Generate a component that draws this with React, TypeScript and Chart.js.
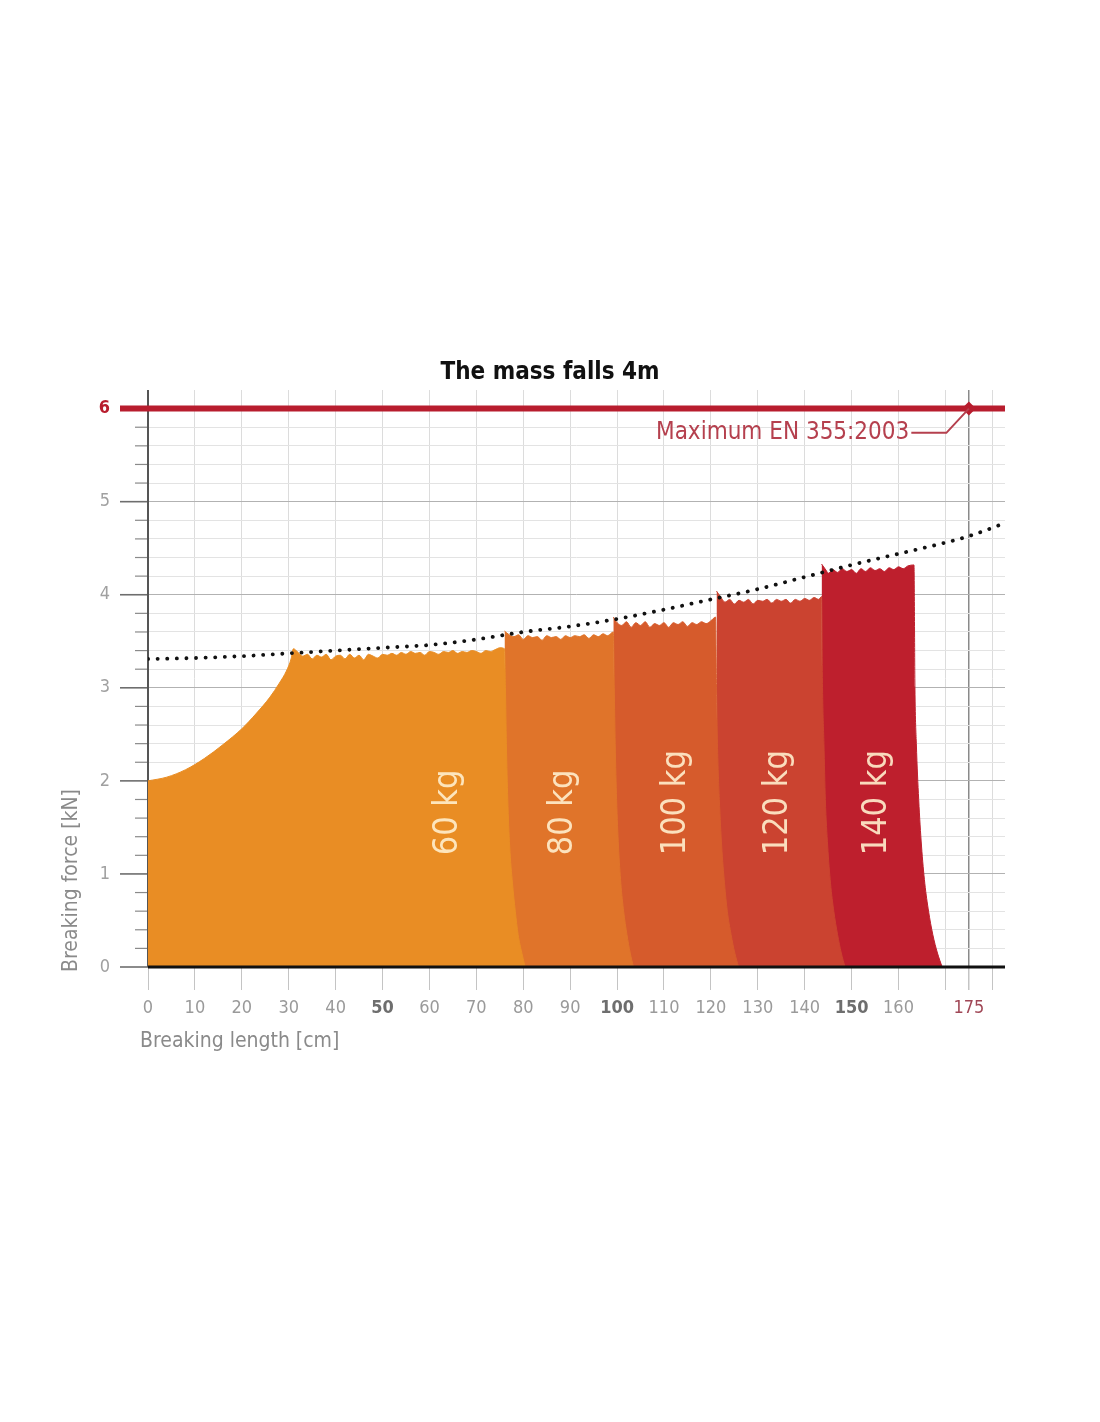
import React, { useEffect, useRef } from 'react';
import { Chart, registerables } from 'chart.js';

Chart.register(...registerables);

const FONT = "'DejaVu Sans Condensed', 'Liberation Sans Narrow', 'Roboto', sans-serif";

// x axis (breaking length, cm)
const xTickValues = [0, 10, 20, 30, 40, 50, 60, 70, 80, 90, 100, 110, 120, 130, 140, 150, 160, 170, 175, 180];
const xTickLabels = ['0', '10', '20', '30', '40', '50', '60', '70', '80', '90', '100', '110', '120', '130', '140', '150', '160', '', '175', ''];
const xBoldTicks = [50, 100, 150];
const xMax = 182.7;

// y axis (breaking force, kN)
const yTickLabels = ['0', '1', '2', '3', '4', '5', '6'];
const yMax = 6.2;

// bands: [breaking length, force]
const bandNames = ['60 kg', '80 kg', '100 kg', '120 kg', '140 kg'];
const bandColors = ['#E98D24', '#E0742A', '#D65B2C', '#CB4330', '#BE1F2D'];

const band60: [number, number][] = [
  [0, 2.0], [4, 2.04], [8, 2.12], [12, 2.24], [16, 2.39], [20, 2.56], [23, 2.72],
  [26, 2.9], [28, 3.05], [29.5, 3.18], [30.5, 3.31], [31, 3.42],
  [32, 3.38], [33, 3.34], [34, 3.36], [35, 3.31], [36, 3.35], [37, 3.33], [38, 3.36], [39, 3.3],
  [40, 3.34], [41, 3.35], [42, 3.31], [43, 3.36], [44, 3.32], [45, 3.35], [46, 3.3], [47, 3.36],
  [48, 3.34], [49, 3.32], [50, 3.36], [51, 3.35], [52, 3.37], [53, 3.35], [54, 3.38], [55, 3.36],
  [56, 3.39], [57, 3.37], [58, 3.38], [59, 3.35], [60, 3.39], [61, 3.38], [62, 3.36], [63, 3.39],
  [64, 3.38], [65, 3.4], [66, 3.37], [67, 3.39], [68, 3.38], [69, 3.4], [70, 3.39], [71, 3.37],
  [72, 3.4], [73, 3.39], [74, 3.41], [75, 3.43], [76, 3.42],
  [76.2, 3.0], [76.4, 2.4], [76.7, 1.8], [77.1, 1.3], [77.7, 0.9], [78.3, 0.6], [78.9, 0.35], [79.7, 0.15], [80.4, 0],
];

const band80: [number, number][] = [
  [76, 3.61], [77, 3.57], [78, 3.55], [79, 3.57], [80, 3.52], [81, 3.56], [82, 3.54], [83, 3.55],
  [84, 3.51], [85, 3.56], [86, 3.54], [87, 3.55], [88, 3.52], [89, 3.56], [90, 3.54], [91, 3.56],
  [92, 3.55], [93, 3.57], [94, 3.53], [95, 3.57], [96, 3.55], [97, 3.58], [98, 3.56], [99.2, 3.6],
  [99.4, 3.0], [99.6, 2.4], [99.9, 1.8], [100.3, 1.3], [100.8, 0.9], [101.4, 0.6], [102.1, 0.35], [102.8, 0.15], [103.5, 0],
];

const band100: [number, number][] = [
  [99.2, 3.76], [100, 3.7], [101, 3.67], [102, 3.71], [103, 3.65], [104, 3.7], [105, 3.67], [106, 3.71],
  [107, 3.65], [108, 3.69], [109, 3.67], [110, 3.7], [111, 3.65], [112, 3.7], [113, 3.68], [114, 3.71],
  [115, 3.66], [116, 3.7], [117, 3.68], [118, 3.71], [119, 3.69], [120, 3.72], [121, 3.76],
  [121.2, 3.0], [121.4, 2.4], [121.8, 1.8], [122.3, 1.3], [122.9, 0.9], [123.5, 0.6], [124.3, 0.35], [125.1, 0.15], [125.9, 0],
];

const band120: [number, number][] = [
  [121.2, 4.04], [122.3, 3.96], [123, 3.92], [124, 3.95], [125, 3.9], [126, 3.94], [127, 3.92], [128, 3.95],
  [129, 3.9], [130, 3.94], [131, 3.93], [132, 3.95], [133, 3.91], [134, 3.95], [135, 3.93], [136, 3.95],
  [137, 3.91], [138, 3.95], [139, 3.93], [140, 3.96], [141, 3.94], [142, 3.97], [143, 3.95], [143.6, 3.98],
  [143.8, 3.0], [144.1, 2.4], [144.4, 1.8], [144.9, 1.3], [145.5, 0.9], [146.2, 0.6], [147, 0.35], [147.8, 0.15], [148.6, 0],
];

const band140: [number, number][] = [
  [143.6, 4.33], [144.6, 4.26], [145, 4.23], [146, 4.27], [147, 4.24], [148, 4.28], [149, 4.25], [150, 4.27],
  [151, 4.23], [152, 4.28], [153, 4.25], [154, 4.29], [155, 4.26], [156, 4.28], [157, 4.25], [158, 4.29],
  [159, 4.27], [160, 4.3], [161, 4.28], [162, 4.31], [163.3, 4.32],
  [163.5, 3.0], [163.8, 2.4], [164.3, 1.8], [164.9, 1.3], [165.6, 0.9], [166.4, 0.6], [167.3, 0.35], [168.3, 0.15], [169.3, 0],
];

const bands = [band60, band80, band100, band120, band140];
const bandLabelX = [64, 88.5, 112.5, 134.3, 155.4];
const bandLabelY = 1.2;

// dotted trend
const trendX = [0, 10, 20, 30, 40, 50, 60, 70, 80, 90, 100, 110, 120, 130, 140, 150, 160, 170, 175, 182.7];
const trendY = [3.31, 3.32, 3.34, 3.37, 3.4, 3.43, 3.46, 3.52, 3.6, 3.66, 3.74, 3.84, 3.95, 4.06, 4.19, 4.32, 4.44, 4.56, 4.63, 4.77];

// EN 355:2003 limit
const limitForce = 6;
const limitLength = 175;
const limitLabel = 'Maximum EN 355:2003';
const limitNoteX = 162.3;
const limitNoteY = 5.74;

const decor = {
  id: 'decor',
  beforeDatasetsDraw(chart: any) {
    const { ctx, chartArea: a, scales } = chart;
    const y = scales.y;
    ctx.save();
    y.ticks.forEach((t: any) => {
      const major = Math.round(t.value * 5) % 5 === 0;
      const py = y.getPixelForValue(t.value);
      ctx.strokeStyle = major ? '#6e6e6e' : '#8a8a8a';
      ctx.lineWidth = major ? 1.6 : 1.2;
      ctx.beginPath();
      ctx.moveTo(a.left - (major ? 28 : 13), py);
      ctx.lineTo(a.left, py);
      ctx.stroke();
    });
    ctx.strokeStyle = '#555';
    ctx.lineWidth = 2;
    ctx.beginPath();
    ctx.moveTo(a.left, a.top);
    ctx.lineTo(a.left, a.bottom);
    ctx.stroke();
    ctx.restore();
  },
  afterDatasetsDraw(chart: any) {
    const { ctx, chartArea: a, scales } = chart;
    const { x, y } = scales;
    ctx.save();

    // x axis line
    ctx.strokeStyle = '#111';
    ctx.lineWidth = 3;
    ctx.beginPath();
    ctx.moveTo(a.left, y.getPixelForValue(0));
    ctx.lineTo(a.right, y.getPixelForValue(0));
    ctx.stroke();

    // band labels
    ctx.fillStyle = 'rgba(255, 238, 205, 0.9)';
    ctx.font = `34px ${FONT}`;
    ctx.textAlign = 'left';
    ctx.textBaseline = 'middle';
    bandNames.forEach((name, i) => {
      ctx.save();
      ctx.translate(x.getPixelForValue(bandLabelX[i]), y.getPixelForValue(bandLabelY));
      ctx.rotate(-Math.PI / 2);
      ctx.fillText(name, 0, 0);
      ctx.restore();
    });

    // limit line
    const ly = y.getPixelForValue(limitForce);
    const lx = x.getPixelForValue(limitLength);
    ctx.strokeStyle = '#B81D2E';
    ctx.fillStyle = '#B81D2E';
    ctx.lineWidth = 6;
    ctx.beginPath();
    ctx.moveTo(a.left - 28, ly);
    ctx.lineTo(a.right, ly);
    ctx.stroke();
    ctx.beginPath();
    ctx.moveTo(lx, ly - 7);
    ctx.lineTo(lx + 7, ly);
    ctx.lineTo(lx, ly + 7);
    ctx.lineTo(lx - 7, ly);
    ctx.closePath();
    ctx.fill();

    const ny = y.getPixelForValue(limitNoteY);
    const nx = x.getPixelForValue(limitNoteX);
    ctx.strokeStyle = '#B5404E';
    ctx.lineWidth = 2;
    ctx.beginPath();
    ctx.moveTo(nx + 2, ny);
    ctx.lineTo(x.getPixelForValue(170.2), ny);
    ctx.lineTo(lx, ly);
    ctx.stroke();
    ctx.fillStyle = '#B5404E';
    ctx.font = `24px ${FONT}`;
    ctx.textAlign = 'right';
    ctx.textBaseline = 'middle';
    ctx.fillText(limitLabel, nx, ny);

    // titles
    ctx.fillStyle = '#111';
    ctx.font = `bold 24px ${FONT}`;
    ctx.textAlign = 'center';
    ctx.fillText('The mass falls 4m', chart.width / 2, a.top - 17);

    ctx.fillStyle = '#8a8a8a';
    ctx.font = `21px ${FONT}`;
    ctx.textAlign = 'left';
    ctx.fillText('Breaking length [cm]', a.left - 8, a.bottom + 75);
    ctx.save();
    ctx.translate(a.left - 76, a.bottom + 5);
    ctx.rotate(-Math.PI / 2);
    ctx.fillText('Breaking force [kN]', 0, 0);
    ctx.restore();

    ctx.restore();
  },
};

const ForceChart: React.FC = () => {
  const canvasRef = useRef<HTMLCanvasElement | null>(null);
  const chartRef = useRef<Chart | null>(null);

  useEffect(() => {
    const ctx = canvasRef.current?.getContext('2d');
    if (!ctx) return;
    if (chartRef.current) chartRef.current.destroy();

    const bandSets = bands.map((pts, i) => ({
      type: 'line' as const,
      label: bandNames[i],
      data: pts.map(([px, py]) => ({ x: px, y: py })),
      backgroundColor: bandColors[i],
      borderColor: bandColors[i],
      borderWidth: 1,
      fill: 'origin',
      pointRadius: 0,
      cubicInterpolationMode: 'monotone',
      order: i + 1,
    }));

    chartRef.current = new Chart(ctx, {
      type: 'line',
      data: {
        datasets: [
          {
            label: 'trend',
            data: trendX.map((tx, i) => ({ x: tx, y: trendY[i] })),
            borderColor: '#111',
            borderWidth: 3.8,
            borderDash: [0.1, 9.5],
            borderCapStyle: 'round',
            fill: false,
            pointRadius: 0,
            cubicInterpolationMode: 'monotone',
            order: 0,
          },
          ...bandSets,
        ] as any,
      },
      plugins: [decor],
      options: {
        animation: false,
        responsive: true,
        maintainAspectRatio: false,
        layout: { padding: { top: 382, right: 87, bottom: 347, left: 0 } },
        plugins: { legend: { display: false }, tooltip: { enabled: false }, title: { display: false } },
        scales: {
          x: {
            type: 'linear',
            min: 0,
            max: xMax,
            afterFit: (s: any) => { s.height = 100; },
            afterBuildTicks: (s: any) => { s.ticks = xTickValues.map((value) => ({ value })); },
            border: { display: false },
            grid: {
              color: (c: any) => (c.tick && c.tick.value === 175 ? '#8a8a8a' : '#dcdcdc'),
              lineWidth: (c: any) => (c.tick && c.tick.value === 175 ? 1.5 : 1),
              tickColor: '#c4c4c4',
              tickLength: 23,
            },
            ticks: {
              autoSkip: false,
              maxRotation: 0,
              minRotation: 0,
              padding: 8,
              callback: (_v: any, i: number) => xTickLabels[i] ?? '',
              font: (c: any) => ({
                family: FONT,
                size: 18,
                weight: c.tick && xBoldTicks.includes(c.tick.value) ? 'bold' : 'normal',
              }),
              color: (c: any) =>
                c.tick && c.tick.value === 175 ? '#A04756' : c.tick && xBoldTicks.includes(c.tick.value) ? '#6e6e6e' : '#9a9a9a',
            },
          },
          y: {
            type: 'linear',
            min: 0,
            max: yMax,
            afterFit: (s: any) => { s.width = 140; },
            afterBuildTicks: (s: any) => {
              s.ticks = Array.from({ length: 31 }, (_, i) => ({ value: i / 5 }));
            },
            border: { display: false },
            grid: {
              color: (c: any) => (c.tick && Math.round(c.tick.value * 5) % 5 === 0 ? '#b2b2b2' : '#e3e3e3'),
              drawTicks: false,
            },
            ticks: {
              autoSkip: false,
              padding: 38,
              callback: (v: any) => {
                const r = Math.round(Number(v) * 5);
                return r % 5 === 0 ? yTickLabels[r / 5] : '';
              },
              font: (c: any) => ({
                family: FONT,
                size: 18,
                weight: c.tick && Math.round(c.tick.value * 5) === 30 ? 'bold' : 'normal',
              }),
              color: (c: any) => (c.tick && Math.round(c.tick.value * 5) === 30 ? '#B81D2E' : '#a0a0a0'),
            },
          },
        },
      },
    });

    return () => {
      if (chartRef.current) {
        chartRef.current.destroy();
        chartRef.current = null;
      }
    };
  }, []);

  return (
    <div style={{ width: 1084, height: 1406, position: 'relative' }}>
      <canvas ref={canvasRef} />
    </div>
  );
};

export default function App() {
  return <ForceChart />;
}
